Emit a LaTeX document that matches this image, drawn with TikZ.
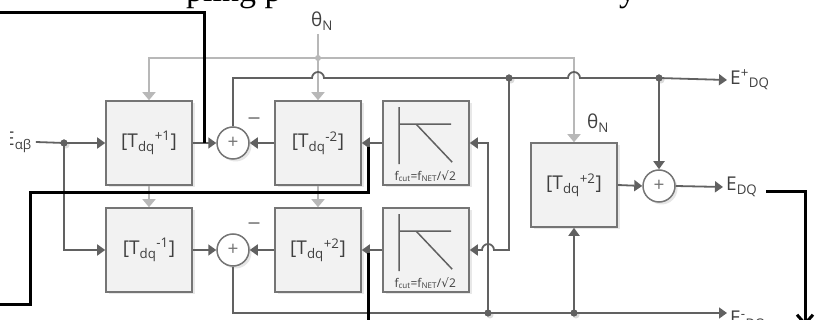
\documentclass[tikz,border=0pt]{standalone}
\usepackage{fontspec}
\setmainfont{Open Sans}
\newfontfamily\pageserif{Liberation Serif}
\newfontfamily\symfont{DejaVu Sans}
\usetikzlibrary{arrows.meta}
\usetikzlibrary{shadows}
\definecolor{wiregray}{rgb}{0.38,0.38,0.38}
\definecolor{thetagray}{rgb}{0.72,0.72,0.72}
\definecolor{boxgray}{rgb}{0.46,0.46,0.46}
\definecolor{boxfill}{rgb}{0.95,0.95,0.95}
\definecolor{textgray}{rgb}{0.25,0.25,0.25}

\tikzset{
  block/.style={draw=boxgray,fill=boxfill,line width=1.6pt,minimum width=86pt,minimum height=84pt,inner sep=0pt,text=textgray,font=\fontsize{19}{22}\selectfont,drop shadow={shadow xshift=2.5pt,shadow yshift=-2.5pt,opacity=0.18}},
  sumnode/.style={circle,draw=boxgray,fill=white,line width=1.5pt,minimum size=32pt,inner sep=0pt,text=boxgray,font=\fontsize{19}{20}\selectfont,drop shadow={shadow xshift=2.5pt,shadow yshift=-2.5pt,opacity=0.2}},
  dot/.style={circle,fill=wiregray,inner sep=0pt,minimum size=7pt,drop shadow={shadow xshift=2pt,shadow yshift=-2pt,opacity=0.15}},
  tdot/.style={circle,fill=thetagray,inner sep=0pt,minimum size=6pt},
  wire/.style={draw=wiregray,line width=1.8pt},
  twire/.style={draw=thetagray,line width=1.8pt},
  dtip/.style={-{Triangle[length=8pt,width=11pt]}},
  ttip/.style={-{Triangle[length=8pt,width=13pt]}},
  lbl/.style={text=textgray,font=\fontsize{19}{22}\selectfont,inner sep=3pt},
  thlbl/.style={text=textgray,font=\fontsize{19}{22}\selectfont,inner sep=0pt},
  cutlbl/.style={text=textgray,font=\fontsize{12}{14}\selectfont,inner sep=0pt},
  minuslbl/.style={text=boxgray!80,font=\fontsize{26}{26}\selectfont,inner sep=0pt},
  filterline/.style={draw=wiregray,line width=1.5pt},
  markline/.style={draw=black,line width=3pt},
  serifbit/.style={font=\pageserif\fontsize{34}{34}\selectfont,inner sep=0pt}
}

\begin{document}
\begin{tikzpicture}[x=1pt,y=-1pt,line join=miter]
\useasboundingbox (0,0) rectangle (817,320);
\clip (0,0) rectangle (817,320);

\node[serifbit,anchor=base west] (frag1) at (186,2) {pling p};
\node[serifbit,anchor=base west] (frag2) at (619,2) {y};

\node[block] (tp1) at (149,143) {[T\textsubscript{dq}\textsuperscript{+1}]};
\node[block] (tm2) at (318,143) {[T\textsubscript{dq}\textsuperscript{-2}]};
\node[block] (lpf1) at (426,143) {};
\node[block] (tm1) at (149,250) {[T\textsubscript{dq}\textsuperscript{-1}]};
\node[block] (tp2) at (318,250) {[T\textsubscript{dq}\textsuperscript{+2}]};
\node[block] (lpf2) at (426,250) {};
\node[block] (tp2r) at (574,185) {[T\textsubscript{dq}\textsuperscript{+2}]};

\foreach \f in {lpf1,lpf2}{
  \draw[filterline,shift={(\f.north west)}] (17,7) -- (17,64) (17,24) -- (69,24) (34,24) -- (70,62);
  \node[cutlbl] (cut\f) at ([shift={(43,76)}]\f.north west) {f\textsubscript{cut}=f\textsubscript{NET}/{\symfont √}2};
}

\node[sumnode] (s1) at (233,143) {+};
\node[sumnode] (s2) at (233,250) {+};
\node[sumnode] (s3) at (659,186) {+};
\node[minuslbl] (neg1) at (254,122) {–};
\node[minuslbl] (neg2) at (254,227) {–};

\begin{scope}
\clip (10,120) rectangle (60,170);
\node[lbl,anchor=west,inner sep=0pt] (eab) at (4,142) {E\textsubscript{αβ}};
\end{scope}
\node[lbl,anchor=west] (edqp) at (727,80) {E\textsuperscript{+}\textsubscript{DQ}};
\node[lbl,anchor=west] (edq) at (723,187) {E\textsubscript{DQ}};
\node[lbl,anchor=west] (edqm) at (727,321) {E\textsuperscript{-}\textsubscript{DQ}};
\node[thlbl] (th1) at (322,21) {θ\textsubscript{N}};
\node[thlbl] (th2) at (598,123) {θ\textsubscript{N}};

\node[dot] (j1) at (64,143) {};
\node[dot] (j2) at (509,78) {};
\node[dot] (j3) at (659,78) {};
\node[dot] (j4) at (488,313) {};
\node[dot] (j5) at (574,313) {};
\coordinate (hopa) at (318,78);
\coordinate (hopb) at (574,78);
\coordinate (hopc) at (488,250);
\coordinate (tj) at (318,58);
\coordinate (thtop) at (318,34);

\draw[twire,ttip] (thtop) -- (tm2.north);
\draw[twire,ttip] (tj) -| (tp1.north);
\draw[twire,ttip] (tj) -| (tp2r.north);
\draw[twire,ttip] (tp1.south) -- (tm1.north);
\draw[twire,ttip] (tm2.south) -- (tp2.north);
\node[tdot] (tjdot) at (tj) {};

\draw[wire] (eab.east) ++(4,0) -- (j1.center);
\draw[wire,dtip] (j1.center) -- (tp1.west);
\draw[wire,dtip] (j1.center) |- (tm1.west);
\draw[wire,dtip] (tp1.east) -- (s1.west);
\draw[wire,dtip] (tm2.west) -- (s1.east);
\draw[wire,dtip] (lpf1.west) -- (tm2.east);
\draw[wire,dtip] (tm1.east) -- (s2.west);
\draw[wire,dtip] (tp2.west) -- (s2.east);
\draw[wire,dtip] (lpf2.west) -- (tp2.east);
\draw[wire] (s1.north) |- ([xshift=-6pt]hopa) arc[start angle=180,end angle=0,radius=6pt] -- ([xshift=-6pt]hopb) arc[start angle=180,end angle=0,radius=6pt] -- (j3.center);
\draw[wire,dtip] (j3.center) -- (edqp.west);
\draw[wire,dtip] (j2.center) |- ([xshift=6pt]hopc) arc[start angle=0,end angle=180,radius=6pt] -- (lpf2.east);
\draw[wire,dtip] (j3.center) -- (s3.north);
\draw[wire,dtip] (tp2r.east) -- (s3.west);
\draw[wire,dtip] (s3.east) -- (edq.west);
\draw[wire] (s2.south) |- (j5.center);
\draw[wire,dtip] (j5.center) -- (j5 -| edqm.west);
\draw[wire,dtip] (j4.center) |- (lpf1.east);
\draw[wire,dtip] (j5.center) -- (tp2r.south);
\foreach \j in {j1,j2,j3,j4,j5} \node[dot] at (\j) {};

\coordinate (ka) at (0,13);
\coordinate (kb) at (204,143);
\coordinate (kc) at (368,147);
\coordinate (kd) at (30,193);
\coordinate (ke) at (0,305);
\coordinate (kf) at (368,253);
\coordinate (kg) at (368,322);
\coordinate (kh) at (766,192);
\coordinate (ki) at (805,326);
\draw[markline] (ka) -| (kb);
\draw[markline] (kc) |- (kd) |- (ke);
\draw[markline] (kf) -- (kg);
\draw[markline,-{Straight Barb[length=9pt,width=16pt]}] (kh) -| (ki);
\end{tikzpicture}
\end{document}
